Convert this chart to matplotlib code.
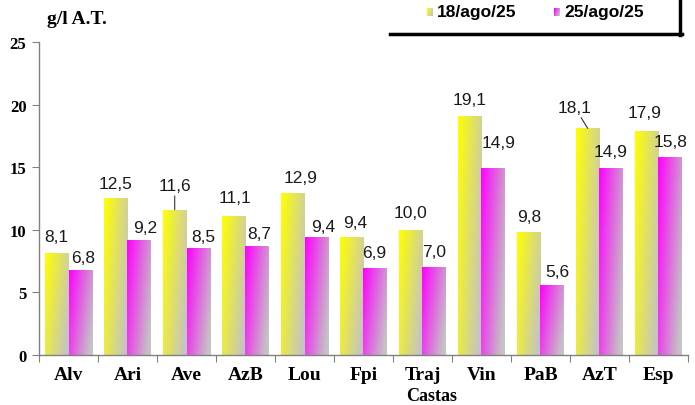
import numpy as np
import matplotlib.pyplot as plt
from matplotlib.colors import to_rgb
from matplotlib.lines import Line2D

castas = ['Alv', 'Ari', 'Ave', 'AzB', 'Lou', 'Fpi', 'Traj', 'Vin', 'PaB', 'AzT', 'Esp']
datas = ['18/ago/25', '25/ago/25']
val_18ago = [8.1, 12.5, 11.6, 11.1, 12.9, 9.4, 10.0, 19.1, 9.8, 18.1, 17.9]
val_25ago = [6.8, 9.2, 8.5, 8.7, 9.4, 6.9, 7.0, 14.9, 5.6, 14.9, 15.8]
yticks = [0, 5, 10, 15, 20, 25]

# label offsets in pixels from the top centre of each bar
dx_18 = [0, 0, 0, 1, 8, 3, 0, 0, 0, -13, -2]
dy_18 = [17, 15, 24, 18, 16, 15, 17, 16, 16, 21, 18]
dx_25 = [3, 6, 5, 2, 7, -1, 0, 5, 5, -1, 0]
dy_25 = [12, 12, 12, 12, 11, 16, 16, 26, 13, 17, 16]
leader_18 = [2, 9]  # labels with a leader line

W, H = 695, 406
serif = 'Liberation Serif'
sans = 'Liberation Sans'


def gradient(color, nx=40, ny=80, gray='#c4c4c4'):
    c = np.array(to_rgb(color))
    g = np.array(to_rgb(gray))
    u = np.linspace(0, 1, nx)[None, :]
    v = np.linspace(0, 1, ny)[:, None]
    t = np.clip(0.75 * u + 0.35 * v, 0, 1)[..., None]
    return c * (1 - t) + g * t


fig = plt.figure(figsize=(W / 100, H / 100), dpi=100)
ax = fig.add_axes([39 / W, 1 - 355.7 / H, (688 - 39) / W, (355.7 - 43) / H])

x = np.arange(len(castas))
w = 0.4
b1 = ax.bar(x - w / 2, val_18ago, w, facecolor='none', edgecolor='none')
b2 = ax.bar(x + w / 2, val_25ago, w, facecolor='none', edgecolor='none')

for bars, col in [(b1, '#ffff00'), (b2, '#ff00ff')]:
    img = gradient(col)
    for b in bars:
        x0 = b.get_x()
        im = ax.imshow(img, extent=[x0, x0 + b.get_width(), 0, b.get_height()],
                       aspect='auto', interpolation='bilinear', zorder=2)
        im.set_clip_path(b)

ax.set_xlim(-0.5, len(castas) - 0.5)
ax.set_ylim(0, 25)

px = 0.72  # points per pixel
for i, b in enumerate(b1):
    kw = {}
    if i in leader_18:
        kw['arrowprops'] = dict(arrowstyle='-', color='#333333', lw=0.8, shrinkA=0, shrinkB=0)
    ax.annotate(f'{val_18ago[i]:.1f}'.replace('.', ','),
                (b.get_x() + b.get_width() / 2, b.get_height()),
                xytext=(dx_18[i] * px, dy_18[i] * px), textcoords='offset points',
                ha='center', va='center', fontsize=12.5, family=sans, color='#1a1a1a', **kw)
for i, b in enumerate(b2):
    ax.annotate(f'{val_25ago[i]:.1f}'.replace('.', ','),
                (b.get_x() + b.get_width() / 2, b.get_height()),
                xytext=(dx_25[i] * px, dy_25[i] * px), textcoords='offset points',
                ha='center', va='center', fontsize=12.5, family=sans, color='#1a1a1a')

for s in ['top', 'right']:
    ax.spines[s].set_visible(False)
for s in ['left', 'bottom']:
    ax.spines[s].set_color('#808080')
    ax.spines[s].set_linewidth(1)

ax.set_xticks(np.arange(-0.5, len(castas), 1))
ax.set_xticklabels([])
ax.set_xticks(x, castas, minor=True)
ax.tick_params(axis='x', which='major', length=5, color='#808080', direction='out')
ax.tick_params(axis='x', which='minor', length=0, pad=8)
for lbl in ax.get_xticklabels(minor=True):
    lbl.set_fontfamily(serif)
    lbl.set_fontweight('bold')
    lbl.set_fontsize(14)

ax.set_yticks(yticks)
ax.tick_params(axis='y', length=5, color='#808080', direction='out', pad=4)
for lbl in ax.get_yticklabels():
    lbl.set_fontfamily(serif)
    lbl.set_fontweight('bold')
    lbl.set_fontsize(12)

fig.text(47 / W, 1 - 19 / H, 'g/l A.T.', family=serif, weight='bold', fontsize=14,
         ha='left', va='center')
fig.text(432 / W, 1 - 397 / H, 'Castas', family=serif, weight='bold', fontsize=13,
         ha='center', va='center')

# legend box (only bottom and right edge visible)
fig.add_artist(Line2D([390 / W, 682 / W], [1 - 35 / H, 1 - 35 / H], color='black', lw=2.5))
fig.add_artist(Line2D([680 / W, 680 / W], [1 - 36 / H, 1.0], color='black', lw=2.5))
for lx, lab, col in [(427, datas[0], '#ffff00'), (554, datas[1], '#ff00ff')]:
    sw = fig.add_axes([lx / W, 1 - 17 / H, 6 / W, 8 / H])
    sw.imshow(gradient(col, 10, 10), aspect='auto', interpolation='bilinear')
    sw.axis('off')
    fig.text((lx + 10) / W, 1 - 13 / H, lab, family=sans, weight='bold', fontsize=12.5,
             ha='left', va='center')

fig.savefig('out.png', dpi=100)
